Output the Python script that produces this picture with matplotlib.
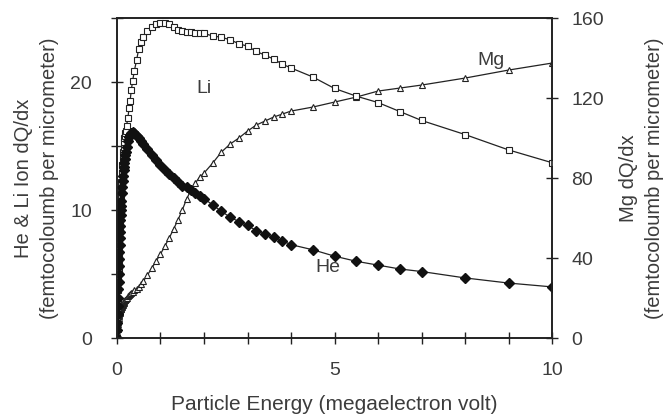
import matplotlib
matplotlib.use("Agg")
import matplotlib.pyplot as plt
from matplotlib.ticker import MultipleLocator, FixedLocator

plt.rcParams["font.family"] = ["Liberation Sans", "DejaVu Sans"]

TEXT = "#3c3c3c"

# particle energy grid (MeV), shared by all three curves
energy = [0, 0.005, 0.01, 0.015, 0.02, 0.025, 0.03, 0.035, 0.04, 0.045,
          0.05, 0.055, 0.06, 0.065, 0.07, 0.075, 0.08, 0.085, 0.09, 0.095,
          0.1, 0.11, 0.12, 0.13, 0.14, 0.15, 0.16, 0.17, 0.18, 0.19,
          0.2, 0.22, 0.25, 0.28, 0.3, 0.33, 0.36, 0.4, 0.45, 0.5,
          0.55, 0.6, 0.7, 0.8, 0.9, 1.0, 1.1, 1.2, 1.3, 1.4,
          1.5, 1.6, 1.7, 1.8, 1.9, 2.0, 2.2, 2.4, 2.6, 2.8,
          3.0, 3.2, 3.4, 3.6, 3.8, 4.0, 4.5, 5, 5.5, 6,
          6.5, 7, 8, 9, 10]

li = [0, 0.75, 1.5, 2.25, 3.0, 3.75, 4.5, 5.25, 6.0, 6.6,
      7.2, 7.8, 8.4, 8.95, 9.5, 10.0, 10.5, 10.95, 11.4, 11.8,
      12.2, 12.9, 13.5, 14.0, 14.5, 14.9, 15.3, 15.6, 15.8, 16.0,
      16.2, 16.6, 17.2, 18.0, 18.5, 19.4, 20.1, 20.9, 21.7, 22.6,
      23.1, 23.5, 24.0, 24.3, 24.5, 24.6, 24.6, 24.5, 24.3, 24.1,
      24.0, 23.9, 23.9, 23.8, 23.8, 23.8, 23.6, 23.5, 23.3, 23.0,
      22.8, 22.4, 22.1, 21.8, 21.4, 21.1, 20.4, 19.5, 18.9, 18.4,
      17.7, 17.0, 15.9, 14.7, 13.7]

he = [0, 0.6, 1.2, 1.85, 2.5, 3.15, 3.8, 4.4, 5.0, 5.6,
      6.2, 6.75, 7.3, 7.8, 8.3, 8.75, 9.2, 9.6, 10.0, 10.35,
      10.7, 11.3, 11.8, 12.3, 12.7, 13.1, 13.4, 13.7, 14.0, 14.3,
      14.5, 14.9, 15.4, 15.7, 15.9, 16.0, 16.1, 16.0, 15.8, 15.6,
      15.4, 15.2, 14.8, 14.3, 13.9, 13.5, 13.1, 12.8, 12.5, 12.2,
      11.9, 11.8, 11.6, 11.3, 11.1, 10.9, 10.4, 9.9, 9.45, 9.1,
      8.8, 8.4, 8.1, 7.9, 7.6, 7.3, 6.9, 6.4, 6.0, 5.7,
      5.4, 5.2, 4.7, 4.3, 4.0]

mg = [0, 1.5, 3, 4.3, 5.5, 6.8, 8, 9, 10, 10.8,
      11.5, 12, 12.5, 12.9, 13.3, 13.7, 14, 14.3, 14.6, 14.9,
      15.2, 15.7, 16.2, 16.7, 17.2, 17.6, 18, 18.4, 18.8, 19.2,
      19.5, 20.0, 20.8, 21.5, 22, 22.6, 23.2, 23.8, 24.6, 25.6,
      26.8, 28.3, 31.5, 35, 38.5, 42, 46, 50, 54.5, 59,
      64, 69.5, 74, 77.5, 80.5, 82.5, 87.5, 93, 97, 100,
      103.5, 106.5, 108.5, 110.5, 112, 113.5, 115.5, 118, 120.5, 123.5,
      125, 126.5, 130, 134, 137.5]

fig = plt.figure(figsize=(6.7, 4.2), dpi=100)
ax = fig.add_axes([0.1746, 0.195, 0.6494, 0.762])
ax2 = ax.twinx()

line_kw = dict(color="#222222", linewidth=0.9)
ax2.plot(energy, mg, marker="^", markersize=4.5, markerfacecolor="white",
         markeredgecolor="#222222", markeredgewidth=0.8, **line_kw)
ax.plot(energy, li, marker="s", markersize=3.8, markerfacecolor="white",
        markeredgecolor="#222222", markeredgewidth=0.8, **line_kw)
ax.plot(energy, he, marker="D", markersize=5.5, markerfacecolor="#111111",
        markeredgecolor="#111111", **line_kw)
ax.set_zorder(ax2.get_zorder() + 1)
ax.patch.set_visible(False)

ax.set_xlim(0, 10)
ax.set_ylim(0, 25)
ax2.set_ylim(0, 160)

ax.xaxis.set_major_locator(FixedLocator([0, 5, 10]))
ax.xaxis.set_minor_locator(MultipleLocator(1))
ax.yaxis.set_major_locator(FixedLocator([0, 10, 20]))
ax.yaxis.set_minor_locator(MultipleLocator(5))
ax2.yaxis.set_major_locator(MultipleLocator(40))

for a in (ax, ax2):
    a.tick_params(which="both", direction="inout", length=8, width=1,
                  color="#222222", labelcolor=TEXT, labelsize=14)
    for s in a.spines.values():
        s.set_linewidth(1.2)
        s.set_color("#222222")
ax.tick_params(axis="x", which="both", pad=13)
ax.tick_params(axis="y", which="both", pad=14)
ax2.tick_params(axis="y", which="both", pad=10)

ax.text(2.0, 19.5, "Li", fontsize=14, color=TEXT, ha="center", va="center")
ax.text(8.6, 21.7, "Mg", fontsize=14, color=TEXT, ha="center", va="center")
ax.text(4.85, 5.5, "He", fontsize=14, color=TEXT, ha="center", va="center")

ax.set_xlabel("Particle Energy (megaelectron volt)", fontsize=15, color=TEXT,
              labelpad=12)
ax.set_ylabel("He & Li Ion dQ/dx\n(femtocoloumb per micrometer)",
              fontsize=14.5, color=TEXT, labelpad=8, linespacing=1.5)
ax2.set_ylabel("Mg dQ/dx\n(femtocoloumb per micrometer)", fontsize=14.5,
               color=TEXT, labelpad=11, linespacing=1.45)

fig.savefig("out.png", dpi=100)
